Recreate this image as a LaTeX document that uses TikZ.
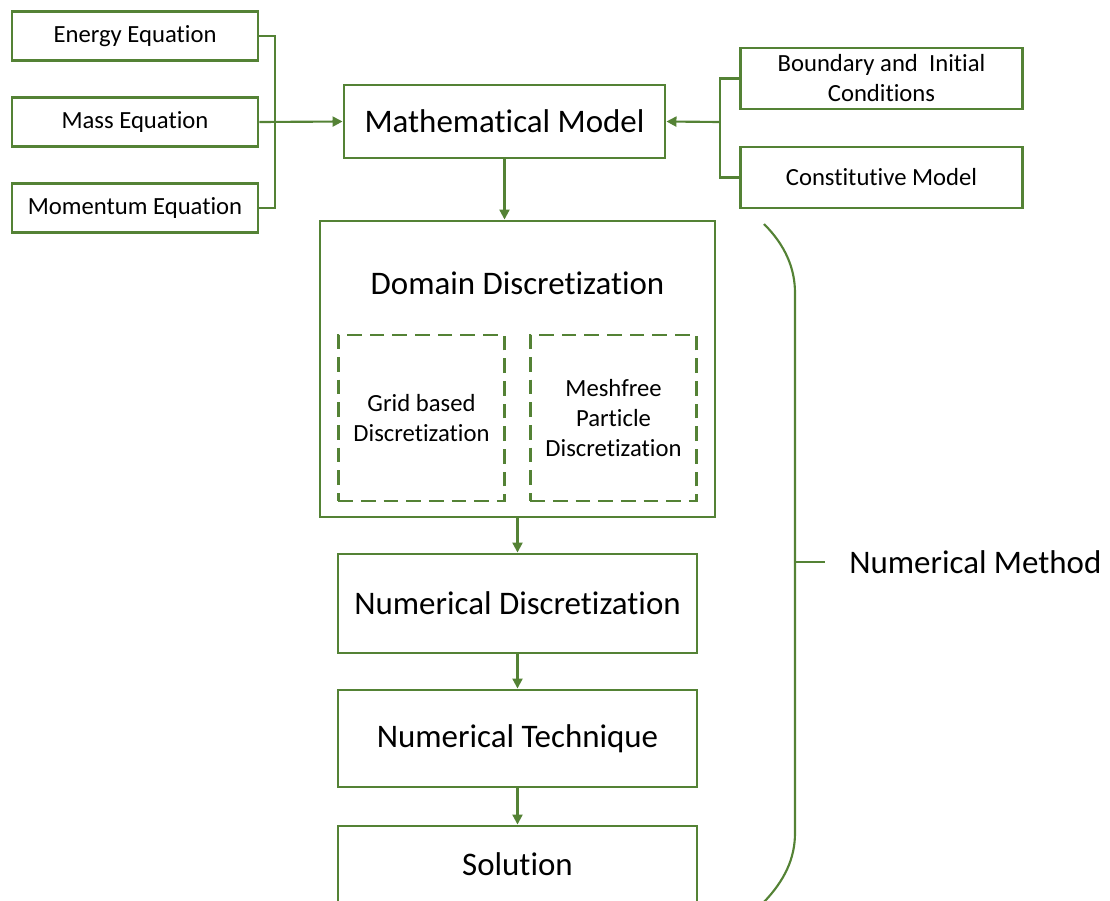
\documentclass[tikz,border=0pt]{standalone}
\usepackage{fontspec}
\setmainfont{Carlito}[Ligatures=NoCommon]
\usetikzlibrary{arrows.meta, positioning}
\definecolor{leaf}{RGB}{84,130,53}

\begin{document}
\begin{tikzpicture}[x=0.75pt, y=-0.75pt,
      eqbox/.style={draw=leaf, line width=2.2pt, minimum width=184.5pt, minimum height=36.75pt, inner sep=0pt, align=center, font=\fontsize{18.5}{22.5}\selectfont},
      mainbox/.style={draw=leaf, line width=2.2pt, inner sep=0pt, align=center, font=\fontsize{24.7}{29}\selectfont},
      subbox/.style={draw=leaf, line width=2.2pt, dash pattern=on 11pt off 6pt, minimum width=125pt, minimum height=124.5pt, inner sep=0pt, align=center, font=\fontsize{18.5}{22.5}\selectfont},
      link/.style={draw=leaf, line width=1.6pt},
      arrow/.style={link, -{Triangle[width=7.5pt,length=7.5pt]}}
    ]
    \useasboundingbox (0,0) rectangle (1110,900);

    % Governing equations (Left)
    \node[eqbox] (energy)   at (135,36)  {Energy Equation};
    \node[eqbox] (mass)     at (135,122) {Mass Equation};
    \node[eqbox] (momentum) at (135,208) {Momentum Equation};

    % Model in the middle
    \node[mainbox, minimum width=240.75pt, minimum height=54.75pt] (model) at (504.5,121.5) {Mathematical Model};

    % Closure inputs (Right)
    \node[eqbox, minimum width=212pt, minimum height=45.75pt] (bound) at (881.5,78.5) {Boundary and \ Initial\\Conditions};
    \node[eqbox, minimum width=212pt, minimum height=45.75pt] (const) at (881.5,177.5) {Constitutive Model};

    % Numerical method column
    \node[mainbox, minimum width=296.25pt, minimum height=222pt] (domain) at (517.5,369) {};
    \node[mainbox, draw=none] (domtitle) at (517.5,283) {Domain Discretization};
    \node[subbox] (grid) at (421.5,418) {Grid based\\Discretization};
    \node[subbox] (mesh) at (613.5,418) {Meshfree\\Particle\\Discretization};
    \node[mainbox, minimum width=269.25pt, minimum height=74.25pt] (numdisc) at (517.5,603.5) {Numerical Discretization};
    \node[mainbox, minimum width=269.25pt, minimum height=72.75pt] (numtech) at (517.5,738.5) {Numerical Technique};
    \node[mainbox, minimum width=269.25pt, minimum height=57pt] (sol) at (517.5,864) {Solution};

    % Bus lines
    \coordinate (lbus) at (275,122);
    \coordinate (rbus) at (720,122);
    \draw[link] (energy.east) -| (lbus) |- (momentum.east);
    \draw[arrow] (mass.east) -- (model.west);
    \draw[link] (bound.west) -| (rbus) |- (const.west);
    \draw[arrow] (rbus) -- (model.east);

    % Core flow
    \draw[arrow] (model.south) -- (model.south |- domain.north);
    \draw[arrow] (domain.south) -- (numdisc.north);
    \draw[arrow] (numdisc.south) -- (numtech.north);
    \draw[arrow] (numtech.south) -- (sol.north);

    % Brace round the numerical method
    \node[font=\fontsize{24.7}{29}\selectfont, anchor=west, inner sep=0pt] (method) at (849,562) {Numerical Method};
    \coordinate (tick) at (825,562);
    \draw[link] (764,224) .. controls (785,245) and (795,268) .. (795,293) -- (795,833)
      .. controls (795,858) and (785,880) .. (764,902);
    \draw[link] (795,562) -- (tick);
  \end{tikzpicture}
\end{document}
